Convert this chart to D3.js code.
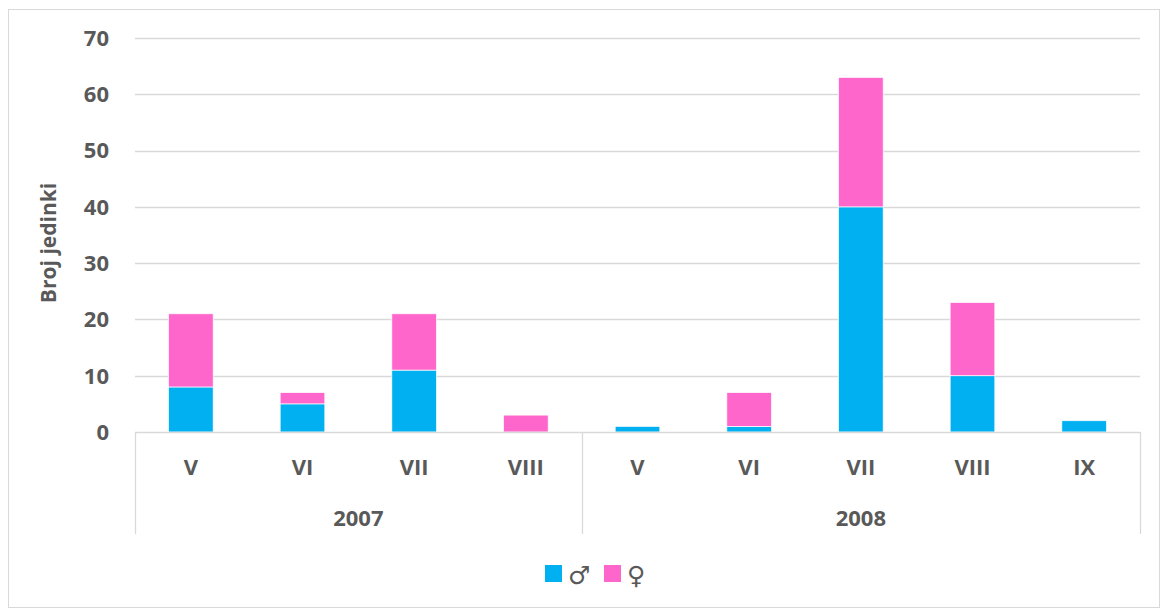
<!DOCTYPE html>
<html>
<head>
<meta charset="utf-8">
<script src="https://cdn.jsdelivr.net/npm/d3@7"></script>
<style>
  body { margin: 0; background: #fff; }
  svg text { font-family: "Open Sans", Lato, "Liberation Sans", sans-serif; font-weight: bold; fill: #595959; }
</style>
</head>
<body>
<div id="chart"></div>
<script>
// podaci
const years = ["2007", "2008"];
const months = ["V", "VI", "VII", "VIII", "V", "VI", "VII", "VIII", "IX"];
const yearOfCat = ["2007", "2007", "2007", "2007", "2008", "2008", "2008", "2008", "2008"];
const males = [8, 5, 11, 0, 1, 1, 40, 10, 2];
const females = [13, 2, 10, 3, 0, 6, 23, 13, 0];
const yTicks = [0, 10, 20, 30, 40, 50, 60, 70];
const legendLabels = ["♂", "♀"];
const colors = ["#00B0F0", "#FF66CC"];

(() => {
  const W = 1163, H = 610;
  const plot = { left: 135, right: 1140, top: 38, bottom: 432 };

  const svg = d3.select("#chart").append("svg")
    .attr("width", W).attr("height", H);

  // okvir
  svg.append("rect")
    .attr("x", 8.5).attr("y", 9.5)
    .attr("width", 1151).attr("height", 598)
    .attr("fill", "#fff").attr("stroke", "#d9d9d9");

  const keys = months.map((m, i) => i);
  const x = d3.scaleBand().domain(keys).range([plot.left, plot.right])
    .paddingInner(0.6).paddingOuter(0.3);
  const y = d3.scaleLinear().domain([0, 70]).range([plot.bottom, plot.top]);

  // grid
  svg.append("g").selectAll("line").data(yTicks.filter(d => d > 0)).join("line")
    .attr("x1", plot.left).attr("x2", plot.right)
    .attr("y1", d => Math.round(y(d)) + 0.5).attr("y2", d => Math.round(y(d)) + 0.5)
    .attr("stroke", "#d9d9d9").attr("stroke-width", 1.3);

  // y tick labels
  svg.append("g").selectAll("text").data(yTicks).join("text")
    .attr("x", 109).attr("y", d => y(d))
    .attr("text-anchor", "end").attr("dy", "0.36em")
    .style("font-size", "22px")
    .text(d => d);

  // y axis title
  svg.append("text")
    .attr("transform", `translate(48,243) rotate(-90)`)
    .attr("text-anchor", "middle").attr("dy", "0.36em")
    .style("font-size", "21px")
    .text("Broj jedinki");

  // stacked bars
  const data = keys.map(i => ({ i, m: males[i], f: females[i] }));
  const stack = d3.stack().keys(["m", "f"])(data);
  svg.append("g").selectAll("g").data(stack).join("g")
    .attr("fill", (d, k) => colors[k])
    .selectAll("rect").data(d => d.filter(p => p[1] > p[0])).join("rect")
    .attr("x", d => x(d.data.i))
    .attr("width", x.bandwidth())
    .attr("y", d => y(d[1]))
    .attr("height", d => y(d[0]) - y(d[1]))
    .attr("stroke", "#fff").attr("stroke-width", 0.7);

  // baseline
  svg.append("line")
    .attr("x1", plot.left).attr("x2", plot.right)
    .attr("y1", plot.bottom + 0.5).attr("y2", plot.bottom + 0.5)
    .attr("stroke", "#d9d9d9").attr("stroke-width", 1.3);

  // group separators
  const step = x.step();
  const sepIdx = [0];
  yearOfCat.forEach((yr, i) => { if (i > 0 && yr !== yearOfCat[i - 1]) sepIdx.push(i); });
  sepIdx.push(months.length);
  const sepX = sepIdx.map(i => plot.left + i * step);
  svg.append("g").selectAll("line").data(sepX).join("line")
    .attr("x1", d => Math.round(d) + 0.5).attr("x2", d => Math.round(d) + 0.5)
    .attr("y1", plot.bottom).attr("y2", 534)
    .attr("stroke", "#d9d9d9").attr("stroke-width", 1.3);

  // month labels
  svg.append("g").selectAll("text").data(keys).join("text")
    .attr("x", i => x(i) + x.bandwidth() / 2).attr("y", 467)
    .attr("text-anchor", "middle").attr("dy", "0.36em")
    .style("font-size", "22px")
    .text(i => months[i]);

  // year labels
  svg.append("g").selectAll("text").data(years).join("text")
    .attr("x", (yr, k) => (sepX[k] + sepX[k + 1]) / 2).attr("y", 518)
    .attr("text-anchor", "middle").attr("dy", "0.36em")
    .style("font-size", "22px")
    .text(d => d);

  // legend
  const lg = svg.append("g");
  const lx = [545, 604];
  legendLabels.forEach((lab, k) => {
    lg.append("rect")
      .attr("x", lx[k]).attr("y", 565).attr("width", 17).attr("height", 17)
      .attr("fill", colors[k]);
    lg.append("text")
      .attr("x", lx[k] + 23).attr("y", 575)
      .attr("dy", "0.35em")
      .style("font-size", "25px")
      .style("font-family", "'DejaVu Sans', sans-serif")
      .text(lab);
  });
})();
</script>
</body>
</html>
